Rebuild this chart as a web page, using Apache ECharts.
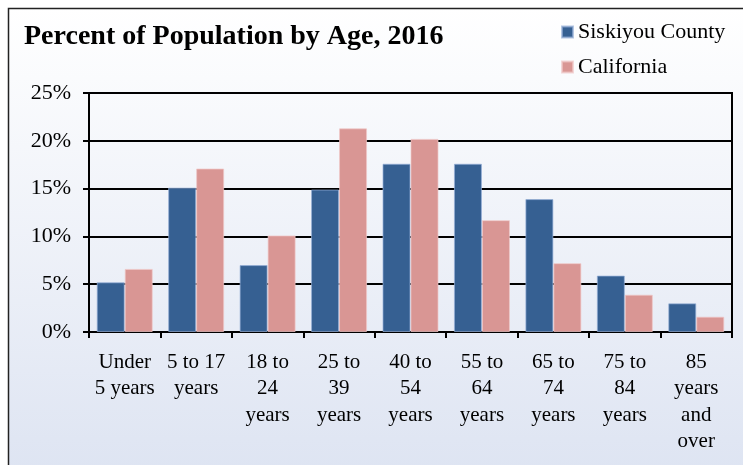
<!DOCTYPE html>
<html>
<head>
<meta charset="utf-8">
<script src="https://cdn.jsdelivr.net/npm/echarts@6/dist/echarts.min.js"></script>
<style>
  html, body { margin: 0; padding: 0; background: #fff; }
  #chart { width: 743px; height: 465px; }
</style>
</head>
<body>
<div id="chart"></div>
<script>
// data (percent of population)
const categories = [
  'Under\n5 years', '5 to 17\nyears', '18 to\n24\nyears', '25 to\n39\nyears',
  '40 to\n54\nyears', '55 to\n64\nyears', '65 to\n74\nyears', '75 to\n84\nyears',
  '85\nyears\nand\nover'
]
const siskiyou = [5.2, 15.1, 7.0, 14.9, 17.6, 17.6, 13.9, 5.9, 3.0]
const california = [6.6, 17.1, 10.1, 21.3, 20.2, 11.7, 7.2, 3.9, 1.6]
const seriesNames = ['Siskiyou County', 'California']

const font = "'Liberation Serif', 'Times New Roman', serif"

const chart = echarts.init(document.getElementById('chart'))

const option = {
  backgroundColor: '#ffffff',
  animation: false,
  graphic: [
    {
      // framed panel with the pale blue gradient
      type: 'rect',
      z: -10,
      shape: { x: 8.5, y: 8.5, width: 800, height: 500 },
      style: {
        fill: new echarts.graphic.LinearGradient(0, 0, 0, 1, [
          { offset: 0, color: '#ffffff' },
          { offset: 1, color: '#dbe2f1' },
        ]),
        stroke: '#222',
        lineWidth: 1.5,
      },
    },
  ],
  title: {
    text: 'Percent of Population by Age, 2016',
    left: 19,
    top: 18,
    textStyle: {
      fontFamily: font,
      fontWeight: 'bold',
      fontSize: 28,
      color: '#000',
    },
  },
  legend: {
    data: seriesNames,
    orient: 'vertical',
    left: 556,
    top: 16,
    icon: 'rect',
    itemWidth: 11,
    itemHeight: 11,
    itemGap: 13,
    textStyle: {
      fontFamily: font,
      fontSize: 22,
      lineHeight: 22,
      color: '#000',
    },
  },
  grid: {
    left: 89,
    right: 11,
    top: 93,
    bottom: 133,
    show: true,
    borderColor: '#000',
    borderWidth: 2,
    backgroundColor: 'transparent',
  },
  xAxis: {
    type: 'category',
    data: categories,
    axisLine: { lineStyle: { color: '#000', width: 2 } },
    axisTick: { show: true, alignWithLabel: false, length: 6, lineStyle: { color: '#000', width: 2 } },
    axisLabel: {
      interval: 0,
      margin: 17,
      fontFamily: font,
      fontSize: 21,
      lineHeight: 26.5,
      color: '#000',
      align: 'center',
    },
  },
  yAxis: {
    type: 'value',
    min: 0,
    max: 25,
    interval: 5,
    axisLine: { show: true, lineStyle: { color: '#000', width: 2 } },
    axisTick: { show: true, length: 6, lineStyle: { color: '#000', width: 2 } },
    splitLine: { lineStyle: { color: '#000', width: 2 } },
    axisLabel: {
      formatter: '{value}%',
      margin: 18,
      fontFamily: font,
      fontSize: 22,
      color: '#000',
    },
  },
  series: [
    {
      name: seriesNames[0],
      type: 'bar',
      data: siskiyou,
      barWidth: 28,
      barGap: '0%',
      itemStyle: { color: '#366092', borderColor: 'rgba(150,175,215,0.7)', borderWidth: 1 },
    },
    {
      name: seriesNames[1],
      type: 'bar',
      data: california,
      barWidth: 28,
      barGap: '0%',
      itemStyle: { color: '#d99694', borderColor: 'rgba(240,200,200,0.7)', borderWidth: 1 },
    },
  ],
}

chart.setOption(option)
</script>
</body>
</html>
